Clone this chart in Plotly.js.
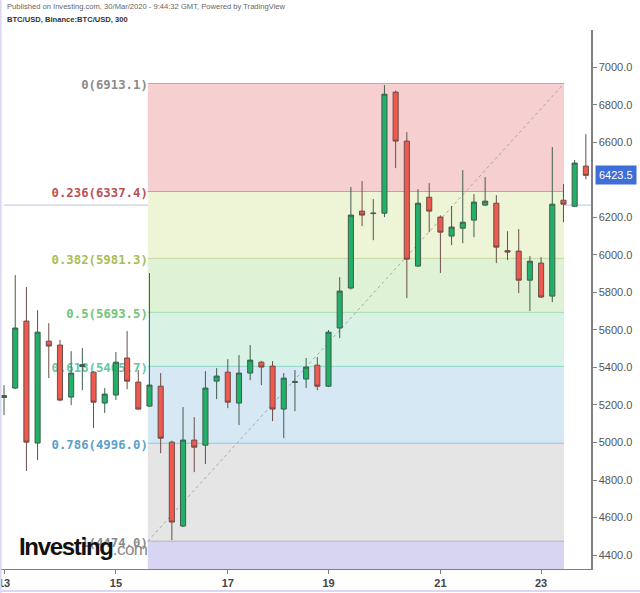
<!DOCTYPE html>
<html><head><meta charset="utf-8">
<script src="https://cdn.plot.ly/plotly-3.0.1.min.js"></script>
<style>html,body{margin:0;padding:0;background:#fff;}#chart{width:640px;height:593px;}</style>
</head><body><div id="chart"></div>
<script>
// ---- data (BTC/USD, Binance, 300-minute candles) ----
const startDay = 13;          // first candle: 13 Mar 2020 00:00
const candleHours = 5;
const openP  = [5240,5290,5647,4997,5540,5519,5242,5405,5375,5210,5253,5450,5322,5194,5300,5002,4555,5013,4986,5327,5375,5210,5370,5428,5407,5178,5320,5338,5412,5300,5610,5823,6233,6220,6222,6867,6606,5940,6307,6201,6100,6142,6185,6265,6275,6022,6020,5865,5956,5780,6291,6259,6473];
const highP  = [5306,5892,5828,5705,5636,5546,5487,5503,5380,5290,5482,5594,5386,5903,5370,5010,5189,5135,5380,5396,5444,5466,5519,5435,5434,5370,5386,5450,5455,5599,5881,6361,6393,6297,6904,6875,6654,6350,6382,6210,6260,6451,6323,6414,6318,6126,6137,5993,5988,6574,6377,6505,6643];
const lowP   = [5146,5285,4848,4906,5343,5220,5199,5279,5077,5157,5226,5284,5175,5190,4943,4480,4550,4842,4885,5231,5183,5093,5332,5306,5114,5023,5167,5290,5279,5295,5556,5815,6153,6078,6201,6462,5769,5935,6121,5903,6052,6062,6094,6260,5956,5972,5796,5700,5770,5748,6174,6254,6403];
const closeP = [5250,5610,5002,5588,5514,5226,5370,5415,5215,5258,5428,5327,5178,5306,5023,4576,5013,4975,5290,5354,5215,5370,5439,5402,5178,5343,5324,5402,5300,5588,5807,6212,6212,6222,6856,6606,5977,6275,6233,6121,6148,6174,6281,6286,6041,6015,5865,5966,5775,6270,6270,6489,6423.5];
const dayLabels = [13,15,17,19,21,23];
const yTicks = [4400,4600,4800,5000,5200,5400,5600,5800,6000,6200,6600,6800,7000];
const fibHigh = 6913.06;
const fibLow = 4474.0;
const fibLevels = [0,0.236,0.382,0.5,0.618,0.786,1];
const fibExtraLevel = 1.618;
const fibStartIdx = 12.85;
const fibEndIdx = 50.05;
const priceLine = 6265;
const lastPrice = 6423.5;

// ---- styles ----
const bandColors = ['#f6d0d1','#eef4d6','#dff2d6','#d8f3e6','#d5e8f4','#e5e5e5','#d8d5f3'];
const lineColors = ['#c9a3a3','#d49898','#c6d99a','#a6dca8','#8ed8c6','#98c3dd','#b4b4b4'];
const labelColors = ['#8a8a8a','#bd4f55','#a9bd55','#73c574','#66c6a6','#5aa0cc','#8a8a8a'];

const idx = openP.map((_, i) => i);
const tickIdx = dayLabels.map(d => Math.ceil(((d - startDay) * 24) / candleHours));
const fibPrice = l => fibHigh - l * (fibHigh - fibLow);

const shapes = [];
const allLevels = fibLevels.concat([fibExtraLevel]);
for (let i = 0; i < allLevels.length - 1; i++) {
  shapes.push({type:'rect', xref:'x', yref:'y', layer:'below',
    x0:fibStartIdx, x1:fibEndIdx, y0:fibPrice(allLevels[i]), y1:fibPrice(allLevels[i+1]),
    fillcolor:bandColors[i], line:{width:0}});
}
fibLevels.forEach((l, i) => {
  const p = fibPrice(l);
  shapes.push({type:'line', xref:'x', yref:'y', layer:'below',
    x0:fibStartIdx, x1:fibEndIdx, y0:p, y1:p, line:{color:lineColors[i], width:1},
    label:{text:String(l) + '(' + p.toFixed(1) + ')', textposition:'start', xanchor:'right', yanchor:'middle', padding:3,
      font:{family:'DejaVu Sans Mono', size:12.3, color:labelColors[i], weight:'bold'}}});
});
shapes.push({type:'line', xref:'x', yref:'y', layer:'below', x0:fibStartIdx, x1:fibEndIdx, y0:fibLow, y1:fibHigh,
  line:{color:'#a8a8a8', width:1, dash:'dot'}});
shapes.push({type:'line', xref:'paper', yref:'y', layer:'below', x0:0.006, x1:1, y0:priceLine, y1:priceLine,
  line:{color:'#b9c6de', width:1}});
shapes.push({type:'line', xref:'paper', yref:'paper', x0:0.001, x1:0.001, y0:-0.05, y1:1.06, line:{color:'#dcd8f2', width:2}});
shapes.push({type:'line', xref:'paper', yref:'paper', x0:0, x1:1.09, y0:-0.0408, y1:-0.0408, line:{color:'#dcd8f2', width:2}});

const trace = {
  type:'candlestick', x:idx, open:openP, high:highP, low:lowP, close:closeP,
  increasing:{line:{color:'#3f5e4c', width:1}, fillcolor:'#22b068'},
  decreasing:{line:{color:'#6e4c48', width:1}, fillcolor:'#f0594e'},
  whiskerwidth:0, hoverinfo:'skip', showlegend:false
};

const layout = {
  width:640, height:593,
  margin:{l:0, r:49, t:30, b:24},
  paper_bgcolor:'#ffffff', plot_bgcolor:'#ffffff',
  boxgap:0.35,
  showlegend:false,
  xaxis:{range:[-0.36,52.46], showgrid:false, zeroline:false, showline:true, linecolor:'#808080', linewidth:1,
    ticks:'outside', ticklen:4, tickcolor:'#808080', tickvals:tickIdx, ticktext:dayLabels.map(String),
    ticklabeloverflow:'allow',
    tickfont:{family:'Liberation Sans, Arial', size:11, color:'#444', weight:'bold'},
    rangeslider:{visible:false}, fixedrange:true},
  yaxis:{side:'right', range:[4326,7198], showgrid:false, zeroline:false, showline:true, linecolor:'#808080', linewidth:1.5,
    ticks:'outside', ticklen:4, tickcolor:'#808080', tickvals:yTicks, tickformat:'.1f',
    tickfont:{family:'Liberation Sans, Arial', size:11, color:'#555'}, fixedrange:true},
  shapes:shapes,
  annotations:[
    {xref:'paper', yref:'paper', x:0.0085, y:1.0427, xanchor:'left', yanchor:'middle', showarrow:false,
      text:'Published on Investing.com, 30/Mar/2020 - 9:44:32 GMT, Powered by TradingView',
      font:{family:'Liberation Sans, Arial', size:7.6, color:'#666'}},
    {xref:'paper', yref:'paper', x:0.0085, y:1.0186, xanchor:'left', yanchor:'middle', showarrow:false,
      text:'<b>BTC/USD, Binance:BTC/USD, 300</b>',
      font:{family:'Liberation Sans, Arial', size:7.6, color:'#333'}},
    {xref:'paper', yref:'paper', x:0.029, y:0.042, xanchor:'left', yanchor:'middle', showarrow:false,
      text:'<span style="letter-spacing:-1.3px"><b>Investing</b></span><span style="fill:#8a8a8a;font-weight:normal;font-size:17px;letter-spacing:-0.5px">.com</span>',
      font:{family:'Liberation Sans, Arial', size:24, color:'#111'}},
    {xref:'paper', yref:'y', x:1, y:lastPrice, xanchor:'left', yanchor:'middle', xshift:4, showarrow:false,
      text:String(lastPrice), bgcolor:'#3f6fd6', borderpad:3,
      font:{family:'Liberation Sans, Arial', size:11, color:'#ffffff'}}
  ]
};

Plotly.newPlot('chart', [trace], layout, {staticPlot:true, displayModeBar:false});
</script></body></html>
